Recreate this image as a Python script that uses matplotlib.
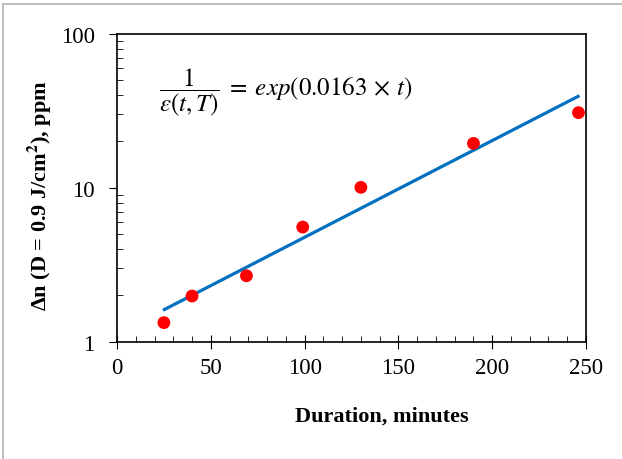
import matplotlib.pyplot as plt
from matplotlib.lines import Line2D
from matplotlib.ticker import FixedLocator, NullFormatter

# data
duration = [25, 40, 69, 99, 130, 190, 246]
delta_n = [1.33, 1.98, 2.68, 5.55, 10.05, 19.4, 30.7]

# fitted trend line endpoints
fit_x = [24.5, 246.5]
fit_y = [1.6, 39.6]

x_ticks = [0, 50, 100, 150, 200, 250]
y_ticks = [1, 10, 100]

plt.rcParams['font.family'] = ['Liberation Serif', 'DejaVu Serif']
plt.rcParams['mathtext.fontset'] = 'stix'

fig = plt.figure(figsize=(6.22, 4.60), dpi=100)
ax = fig.add_axes([117 / 622, 1 - 342.7 / 460, (586 - 117) / 622, (342.7 - 34.7) / 460])

ax.plot(fit_x, fit_y, color='#0070C0', lw=2.3, solid_capstyle='butt', zorder=2)
ax.scatter(duration, delta_n, s=85, color='#FF0000', edgecolors='none', zorder=3)

ax.set_yscale('log')
ax.set_xlim(0, 250)
ax.set_ylim(1, 100)

ax.set_xticks(x_ticks)
ax.set_xticklabels([str(v) for v in x_ticks])
ax.xaxis.set_minor_locator(FixedLocator(range(10, 250, 10)))
ax.set_yticks(y_ticks)
ax.set_yticklabels([str(v) for v in y_ticks])
ax.yaxis.set_minor_formatter(NullFormatter())

ax.tick_params(which='major', length=6, width=0.8, labelsize=16.5, pad=4)
ax.tick_params(axis='y', which='major', direction='out', length=6, pad=10)
ax.tick_params(axis='x', which='major', direction='inout', length=10, pad=6)
ax.tick_params(which='minor', direction='in', length=4, width=0.6)

for s in ax.spines.values():
    s.set_linewidth(1.2)
    s.set_color('black')

ax.text(0.09, 0.81,
        r'$\dfrac{1}{\varepsilon(t,T)}\;=\;exp(0.0163\,\times\,t)$',
        transform=ax.transAxes, fontsize=18, ha='left', va='center')

fig.text(382 / 622, 1 - 417 / 460, 'Duration, minutes', fontsize=16,
         fontweight='bold', ha='center', va='center')
fig.text(40 / 622, 1 - 196 / 460, r'Δn (D = 0.9 J/cm$^\mathbf{2}$), ppm',
         fontsize=16, fontweight='bold', rotation=90, ha='center', va='center')

# light grey chart-area border (left and top edges visible)
fig.add_artist(Line2D([3 / 622, 3 / 622], [0, 1 - 5 / 460], color='#BFBFBF', lw=1.5))
fig.add_artist(Line2D([3 / 622, 1], [1 - 5 / 460, 1 - 5 / 460], color='#BFBFBF', lw=1.5))

fig.savefig('out.png', dpi=100)
